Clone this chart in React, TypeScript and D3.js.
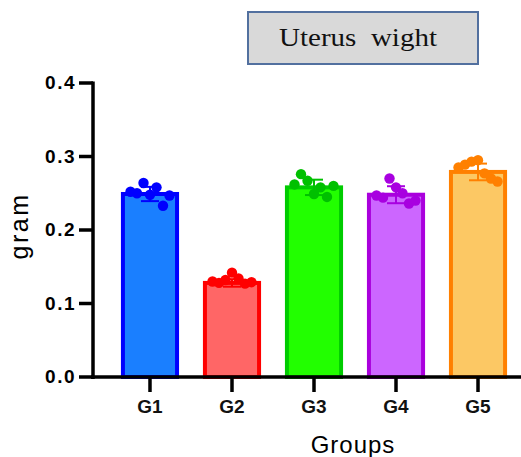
import React, { useRef, useEffect } from "react";
import * as d3 from "d3";

// group labels and bar heights (mean, gram)
const groups = ["G1", "G2", "G3", "G4", "G5"];
const means = [0.249, 0.128, 0.258, 0.248, 0.279];

// individual animals per group
const g1Points = [0.252, 0.25, 0.264, 0.248, 0.258, 0.233, 0.247];
const g2Points = [0.13, 0.128, 0.132, 0.142, 0.134, 0.127, 0.129];
const g3Points = [0.262, 0.276, 0.267, 0.249, 0.258, 0.245, 0.26];
const g4Points = [0.247, 0.244, 0.27, 0.258, 0.25, 0.236, 0.24];
const g5Points = [0.285, 0.289, 0.293, 0.295, 0.277, 0.27, 0.266];
const points = [g1Points, g2Points, g3Points, g4Points, g5Points];

const yTicks = [0, 0.1, 0.2, 0.3, 0.4];

const barFill = ["#1a7fff", "#ff6666", "#22ff00", "#cc66ff", "#fcc864"];
const barStroke = ["#0000ff", "#ff0000", "#00cc00", "#aa00dd", "#ff8000"];
const dotColor = ["#0000ff", "#ff0000", "#00c000", "#a800e0", "#ff8000"];

const W = 521;
const H = 457;

const App = () => {
  const svgRef = useRef<SVGSVGElement>(null);

  useEffect(() => {
    const svg = d3.select(svgRef.current);
    svg.selectAll("*").remove();

    const x = d3
      .scaleBand()
      .domain(groups)
      .range([93, 535])
      .paddingInner(0.34)
      .paddingOuter(0.365);
    const y = d3.scaleLinear().domain([0, 0.4]).range([377, 83]);
    const bw = x.bandwidth();

    // title box
    svg
      .append("rect")
      .attr("x", 248)
      .attr("y", 12)
      .attr("width", 230)
      .attr("height", 52)
      .attr("fill", "#d9d9d9")
      .attr("stroke", "#52709f")
      .attr("stroke-width", 2);
    svg
      .append("text")
      .attr("x", 358)
      .attr("y", 46)
      .attr("text-anchor", "middle")
      .attr("font-family", "Liberation Serif, serif")
      .attr("font-size", 26)
      .attr("textLength", 158)
      .attr("lengthAdjust", "spacingAndGlyphs")
      .style("white-space", "pre")
      .attr("fill", "#111")
      .text("Uterus  wight");

    // bars
    svg
      .append("g")
      .selectAll("rect")
      .data(means)
      .join("rect")
      .attr("x", (d, i) => x(groups[i])!)
      .attr("y", (d) => y(d))
      .attr("width", bw)
      .attr("height", (d) => y(0) - y(d))
      .attr("fill", (d, i) => barFill[i])
      .attr("stroke", (d, i) => barStroke[i])
      .attr("stroke-width", 4);

    // error bars (mean +/- SD)
    points.forEach((pts, i) => {
      const cx = x(groups[i])! + bw / 2;
      const sd = d3.deviation(pts) || 0;
      const g = svg.append("g").attr("stroke", dotColor[i]).attr("stroke-width", 2);
      g.append("line").attr("x1", cx).attr("x2", cx).attr("y1", y(means[i] - sd)).attr("y2", y(means[i] + sd));
      [means[i] - sd, means[i] + sd].forEach((v) => {
        g.append("line").attr("x1", cx - 9).attr("x2", cx + 9).attr("y1", y(v)).attr("y2", y(v));
      });
    });

    // dots
    points.forEach((pts, i) => {
      const cx = x(groups[i])! + bw / 2;
      svg
        .append("g")
        .selectAll("circle")
        .data(pts)
        .join("circle")
        .attr("cx", (d, j) => cx + (j - (pts.length - 1) / 2) * 6.5)
        .attr("cy", (d) => y(d))
        .attr("r", 5.2)
        .attr("fill", dotColor[i]);
    });

    // y axis
    const yAxis = svg.append("g");
    yAxis
      .append("line")
      .attr("x1", 93)
      .attr("x2", 93)
      .attr("y1", y(0.4) - 1.5)
      .attr("y2", y(0) + 2)
      .attr("stroke", "#000")
      .attr("stroke-width", 3.5);
    yAxis
      .selectAll("line.tick")
      .data(yTicks)
      .join("line")
      .attr("class", "tick")
      .attr("x1", 79)
      .attr("x2", 93)
      .attr("y1", (d) => y(d))
      .attr("y2", (d) => y(d))
      .attr("stroke", "#000")
      .attr("stroke-width", 3.5);
    yAxis
      .selectAll("text")
      .data(yTicks)
      .join("text")
      .attr("x", 76)
      .attr("y", (d) => y(d))
      .attr("dy", "0.34em")
      .attr("text-anchor", "end")
      .attr("font-family", "Liberation Sans, Arial, sans-serif")
      .attr("font-weight", "bold")
      .attr("font-size", 19)
      .attr("letter-spacing", 1.5)
      .text((d) => d3.format(".1f")(d));

    // x axis
    const xAxis = svg.append("g");
    xAxis
      .append("line")
      .attr("x1", 91)
      .attr("x2", W)
      .attr("y1", y(0))
      .attr("y2", y(0))
      .attr("stroke", "#000")
      .attr("stroke-width", 3.5);
    xAxis
      .selectAll("line.tick")
      .data(groups)
      .join("line")
      .attr("class", "tick")
      .attr("x1", (d) => x(d)! + bw / 2)
      .attr("x2", (d) => x(d)! + bw / 2)
      .attr("y1", y(0))
      .attr("y2", y(0) + 15)
      .attr("stroke", "#000")
      .attr("stroke-width", 3.5);
    xAxis
      .selectAll("text")
      .data(groups)
      .join("text")
      .attr("x", (d) => x(d)! + bw / 2)
      .attr("y", 413)
      .attr("text-anchor", "middle")
      .attr("font-family", "Liberation Sans, Arial, sans-serif")
      .attr("font-weight", "bold")
      .attr("font-size", 19)
      .attr("fill", "#111")
      .text((d) => d);

    // axis titles
    svg
      .append("text")
      .attr("x", 353)
      .attr("y", 453)
      .attr("text-anchor", "middle")
      .attr("font-family", "Liberation Sans, Arial, sans-serif")
      .attr("font-size", 24)
      .attr("letter-spacing", 1)
      .attr("fill", "#000")
      .text("Groups");
    svg
      .append("text")
      .attr("transform", "translate(28,226) rotate(-90)")
      .attr("text-anchor", "middle")
      .attr("font-family", "Liberation Sans, Arial, sans-serif")
      .attr("font-size", 25)
      .attr("letter-spacing", 2.5)
      .attr("fill", "#000")
      .text("gram");
  }, []);

  return (
    <svg
      ref={svgRef}
      width={W}
      height={H}
      style={{ position: "absolute", left: 0, top: 0, background: "#fff" }}
    />
  );
};

export default App;
